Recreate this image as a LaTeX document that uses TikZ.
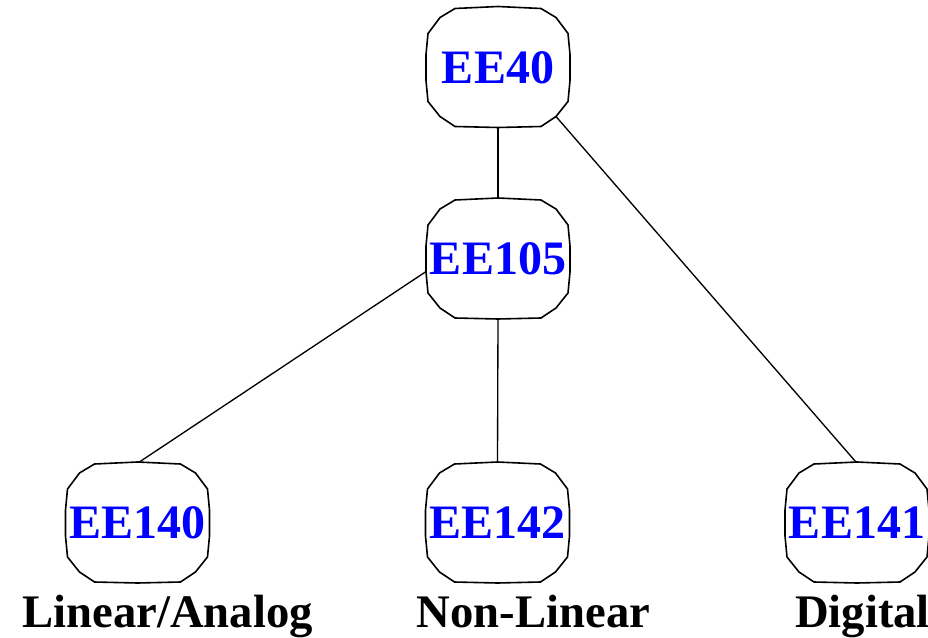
\documentclass[tikz,border=0pt]{standalone}
\usepackage{fontspec}
\setmainfont{Liberation Serif}
\usetikzlibrary{calc,backgrounds}
\newcommand{\coursecolor}{blue}
\newcommand{\boxline}{1.2pt}
\newcommand{\coursebox}[1]{%
\fill[white] ($(#1)+(-43,-59)$) -- ($(#1)+(0,-61)$) -- ($(#1)+(43,-59)$) -- ($(#1)+(58,-50)$) -- ($(#1)+(70,-34)$) -- ($(#1)+(72,-13)$) -- ($(#1)+(72,13)$) -- ($(#1)+(70,34)$) -- ($(#1)+(58,49)$) -- ($(#1)+(43,59)$) -- ($(#1)+(0,60)$) -- ($(#1)+(-43,59)$) -- ($(#1)+(-58,49)$) -- ($(#1)+(-70,34)$) -- ($(#1)+(-72,13)$) -- ($(#1)+(-72,-13)$) -- ($(#1)+(-70,-34)$) -- ($(#1)+(-58,-50)$) -- cycle;
\draw[line width=\boxline] ($(#1)+(-43,-59)$) -- ($(#1)+(0,-61)$) -- ($(#1)+(43,-59)$) -- ($(#1)+(58,-50)$) -- ($(#1)+(70,-34)$) -- ($(#1)+(72,-13)$) -- ($(#1)+(72,13)$) -- ($(#1)+(70,34)$) -- ($(#1)+(58,49)$) -- ($(#1)+(43,59)$) -- ($(#1)+(0,60)$) -- ($(#1)+(-43,59)$) -- ($(#1)+(-58,49)$) -- ($(#1)+(-70,34)$) -- ($(#1)+(-72,13)$) -- ($(#1)+(-72,-13)$) -- ($(#1)+(-70,-34)$) -- ($(#1)+(-58,-50)$) -- cycle;}

\begin{document}
\begin{tikzpicture}[x=0.75pt,y=-0.75pt,
  course/.style={text=\coursecolor, inner sep=0pt, minimum width=108pt, minimum height=89.25pt,
    font=\fontsize{36}{40}\selectfont\bfseries},
  area/.style={anchor=base, inner sep=0pt, font=\fontsize{35}{40}\selectfont\bfseries},
  link/.style={line width=1pt}]
\useasboundingbox (0,0) rectangle (928,638);
\node[course] (ee40) at (498,67.5) {EE40};
\node[course] (ee105) at (498,259) {EE105};
\node[course] (ee140) at (137.5,523) {EE140};
\node[course] (ee142) at (497.5,523) {EE142};
\node[course] (ee141) at (857,523) {EE141};
\node[area] (lin) at (167.5,627) {Linear/Analog};
\node[area] (nonlin) at (533.5,627) {Non-Linear};
\node[area] (dig) at (862.5,627) {Digital};
%links
\begin{scope}[on background layer]
\draw[link] (ee40.south) -- (ee105.north);
\draw[link] ($(ee40.center)+(58,49)$) -- (ee141.north);
\draw[link] (ee105.190) -- (ee140.north);
\draw[link] (ee105.south) -- (ee142.north);
\end{scope}
%boxes
\begin{scope}[on background layer]
\foreach \c in {ee40,ee105,ee140,ee142,ee141}
  {\coursebox{\c}}
\end{scope}
\end{tikzpicture}
\end{document}
